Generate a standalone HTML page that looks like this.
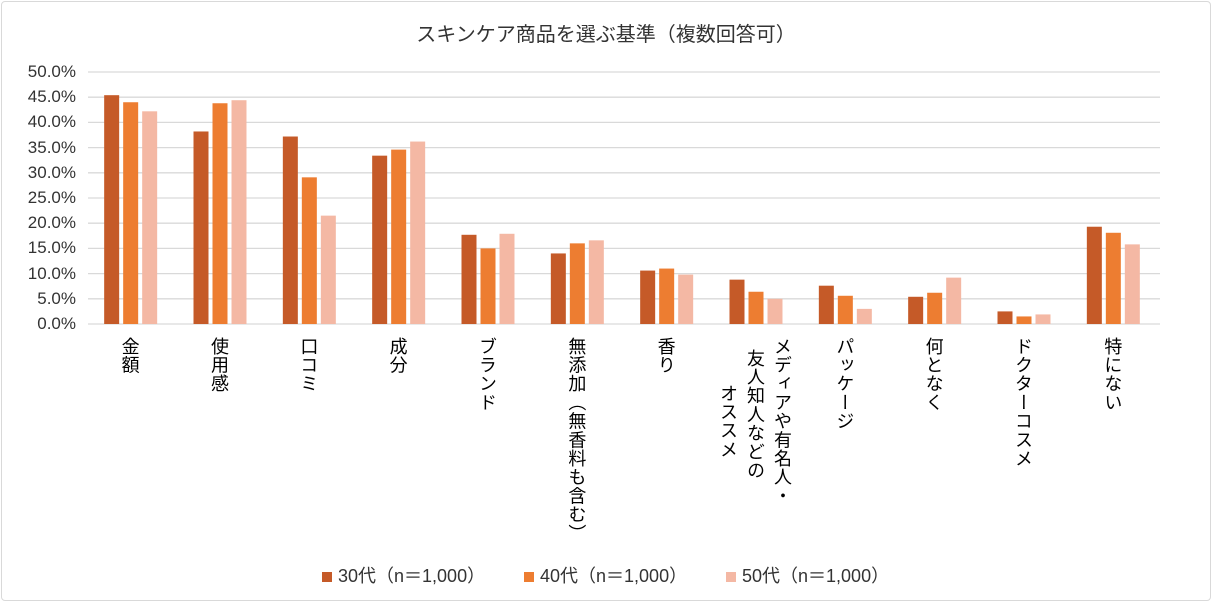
<!DOCTYPE html>
<html><head><meta charset="utf-8"><style>
body{margin:0;background:#fff;}
#chart{position:relative;width:1212px;height:602px;overflow:hidden;font-family:"Liberation Sans","Noto Sans CJK JP",sans-serif;color:#404040;}
.frame{position:absolute;left:1px;top:1px;width:1208px;height:598px;border:1px solid #d9d9d9;border-radius:4px;}
.title{position:absolute;left:0;width:1212px;top:18px;text-align:center;font-size:20px;color:#333;}
.yl{position:absolute;left:0;width:76px;text-align:right;font-size:17px;line-height:16px;color:#333;}
.vl{position:absolute;writing-mode:vertical-rl;font-size:18px;line-height:26px;color:#000;letter-spacing:0.7px;}
.leg{position:absolute;top:562px;font-size:18px;color:#333;}
.sw{display:inline-block;width:10px;height:10px;margin-right:6px;}
</style></head><body>
<div id="chart">
<div class="frame"></div>
<div class="title">スキンケア商品を選ぶ基準（複数回答可）</div>
<svg id="plot" width="1212" height="602" style="position:absolute;left:0;top:0"></svg>
<div id="ylabels"></div>
<div id="xlabels"></div>
<div class="leg" style="left:322px"><span class="sw" style="background:#c55a28"></span>30代（n＝1,000）</div>
<div class="leg" style="left:524px"><span class="sw" style="background:#ed7d31"></span>40代（n＝1,000）</div>
<div class="leg" style="left:726px"><span class="sw" style="background:#f4b8a4"></span>50代（n＝1,000）</div>
</div>
<script>
const categories=["金額","使用感","口コミ","成分","ブランド","無添加（無香料も含む）","香り","メディアや有名人・友人知人などのオススメ","パッケージ","何となく","ドクターコスメ","特にない"];
const s30=[45.4,38.2,37.2,33.4,17.7,14.0,10.6,8.8,7.6,5.4,2.5,19.3];
const s40=[44.0,43.8,29.1,34.6,15.0,16.0,11.0,6.4,5.6,6.2,1.5,18.1];
const s50=[42.2,44.4,21.5,36.2,17.9,16.6,9.8,5.0,3.0,9.2,1.9,15.8];
const yTicks=[0,5,10,15,20,25,30,35,40,45,50];
const series=[s30,s40,s50];
const colors=["#c55a28","#ed7d31","#f4b8a4"];
const X0=88,X1=1160,Y0=324,Y50=72;
const y=v=>Y0-(v/50)*(Y0-Y50);
const gw=(X1-X0)/categories.length;
const svg=document.getElementById('plot');
const NS="http://www.w3.org/2000/svg";
const yl=document.getElementById('ylabels');
yTicks.forEach(t=>{
  const l=document.createElementNS(NS,'line');
  l.setAttribute('x1',X0);l.setAttribute('x2',X1);l.setAttribute('y1',y(t));l.setAttribute('y2',y(t));
  l.setAttribute('stroke','#d9d9d9');l.setAttribute('stroke-width','1.3');
  
  
  svg.appendChild(l);
  const d=document.createElement('div');d.className='yl';d.style.top=(y(t)-8)+'px';d.textContent=t.toFixed(1)+'%';
  
  
  yl.appendChild(d);
});
categories.forEach((c,i)=>{
  const cx=X0+gw*(i+0.5);
  series.forEach((s,k)=>{
    const r=document.createElementNS(NS,'rect');
    const x=cx-28.5+k*19;
    r.setAttribute('x',x);r.setAttribute('width',15);
    r.setAttribute('y',y(s[i]));r.setAttribute('height',Y0-y(s[i]));
    r.setAttribute('fill',colors[k]);
    
    
    svg.appendChild(r);
  });
});
const xl=document.getElementById('xlabels');
categories.forEach((c,i)=>{
  const cx=X0+gw*(i+0.5)-3;
  let cols=[c],tops=[337];
  if(i===7){cols=["メディアや有名人・","友人知人などの","オススメ"];tops=[337,349,384];}
  cols.forEach((t,j)=>{
    const d=document.createElement('div');d.className='vl';
    const offs=cols.length===1?0:(1-j)*27;
    d.style.left=(cx-13+offs)+'px';d.style.top=tops[j]+'px';d.textContent=t;
    
    
    xl.appendChild(d);
  });
});
</script>
</body></html>
